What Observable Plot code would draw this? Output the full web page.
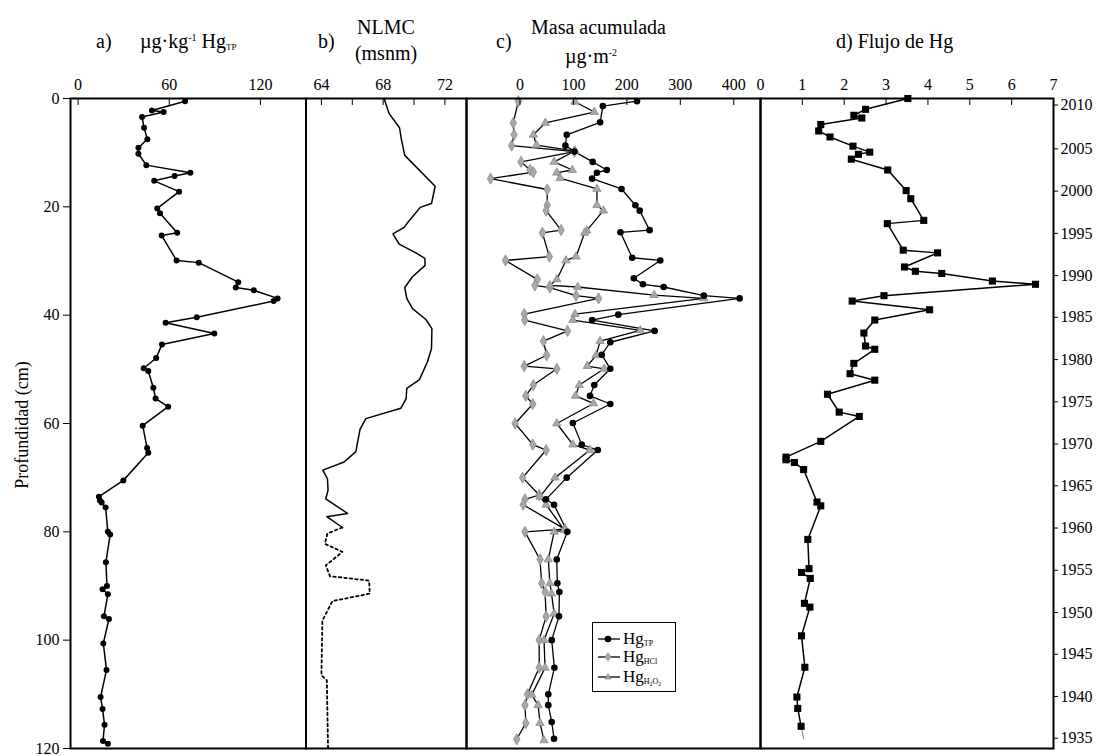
<!DOCTYPE html>
<html><head><meta charset="utf-8">
<script src="https://cdn.jsdelivr.net/npm/d3@7"></script>
<script src="https://cdn.jsdelivr.net/npm/@observablehq/plot@0.6"></script>
<style>
body{margin:0;background:#fff;}
#wrap{position:relative;width:1100px;height:756px;font-family:"Liberation Serif","Times New Roman",serif;color:#000;overflow:hidden;}
#wrap svg.plt{position:absolute;left:0;top:0;}
#wrap svg.plt text, #wrap svg.plt g{font-family:"Liberation Serif","Times New Roman",serif !important;}
.t{position:absolute;font-size:20px;white-space:nowrap;line-height:1;font-family:"Liberation Serif","Times New Roman",serif;}
.c{text-align:center;}
sub.s{font-size:9px;vertical-align:-2px;}
sup.s{font-size:10px;vertical-align:7px;}
#legend{position:absolute;left:592px;top:622px;width:82px;height:68px;border:1.5px solid #000;background:#fff;}
#legend .row{position:absolute;left:4px;height:18px;display:flex;align-items:center;}
#legend .lab{font-size:17px;margin-left:2px;line-height:1;}
#legend sub{font-size:8px;vertical-align:-2px;line-height:1;}
#legend sub sub{font-size:6px;vertical-align:-2px;}
</style></head><body><div id="wrap"></div>
<script>
// ---------- data ----------
// a) Hg_TP concentration (µg/kg) vs depth (cm)
const aDepth = [0.5,2.2,2.5,3.4,5.4,7.5,9.1,10.2,12.3,13.7,14.3,15.2,17.2,20.3,21.2,24.8,25.3,29.9,30.3,33.9,34.9,35.4,36.9,37.4,40.4,41.4,43.4,45.4,47.9,49.8,50.3,53.4,55.4,56.9,60.4,64.5,65.4,70.5,73.5,74.2,74.6,75.5,80.0,80.5,85.6,90.0,90.6,91.5,95.6,96.1,100.6,105.5,110.5,112.7,115.6,118.6,119.1];
const aHg = [70.4,48.6,56.3,42.1,43.4,45.6,39.7,39.7,44.9,73.9,63.5,50.1,66.5,52.1,53.9,65.2,55.0,64.8,79.4,105.4,103.8,115.6,131.3,128.7,78.1,57.6,89.7,55.2,51.4,43.2,46.2,49.5,51.0,59.3,42.5,45.4,46.2,29.8,13.7,14.4,15.5,18.1,19.6,21.1,18.3,19.0,16.1,19.6,17.0,20.3,16.6,18.7,14.8,16.1,17.4,16.4,19.6];

// b) NLMC (msnm) vs depth : solid and dotted parts
const bDepthSolid = [0,2.8,5.4,7.7,10.5,16.2,19.4,20.1,22.8,23.8,25.0,26.9,28.6,29.5,30.8,32.9,34.9,36.9,38.8,40.8,42.5,46.2,48.6,51.9,53.5,55.4,57.2,59.1,61.1,65.2,67.1,68.6,70.2,72.3,73.9,76.6,77.2,79.2];
const bSolid = [68.06,68.39,69.06,69.19,69.4,71.37,71.13,70.4,69.62,69.36,68.63,69.04,70.18,70.7,70.72,69.9,69.4,69.53,69.9,70.77,71.16,71.13,70.87,70.35,69.53,69.49,69.14,66.88,66.5,66.23,65.47,64.09,64.39,64.43,64.28,65.69,64.35,65.36];
const bDepthDot = [79.2,80.3,82.2,83.7,86.2,88.2,89.0,91.4,92.8,96.4,106.5,107.4,120];
const bDot = [65.36,64.39,64.22,65.36,64.28,64.56,67.09,67.13,64.71,64.06,64.0,64.35,64.43];

// c) Masa acumulada (µg/m2)
const cDepthTP = [0.5,1.4,4.4,6.7,8.7,9.8,11.7,13.2,13.7,14.8,16.7,19.7,20.7,24.3,24.7,29.4,29.9,33.2,34.3,34.8,36.4,36.9,39.9,40.9,42.9,45.0,47.3,49.9,52.9,54.9,56.4,59.9,63.9,64.9,70.0,74.0,75.0,80.0,85.1,89.5,91.1,95.6,100.0,105.1,110.0,112.0,115.1,118.2];
const cTP = [219,155,150,87.5,85,102,136,162.5,144,135,190,216,224,242.5,188,210,262.5,213,230,269,344,411,184,135,252,169,153,169,139,131,169,99,115.6,145.6,87.5,48.75,63.75,88.75,68.75,70,73.75,73,59.4,64.4,53,53,59.4,63.75];
const cDepthHCl = [0.5,4.5,6.7,8.7,9.8,11.7,13.2,13.6,14.8,16.8,19.7,20.7,24.3,24.8,29.2,29.9,33.4,34.5,34.9,36.4,36.9,39.8,40.9,42.9,44.8,47.4,49.4,49.9,52.9,54.9,56.4,60.0,63.9,64.9,70.0,73.2,74.0,75.0,79.5,80.0,85.1,89.5,91.1,95.6,100.0,105.1,110.0,112.0,115.3,118.3];
const cHCl = [-3,-12.5,-11,-15.6,102,2,19,25,-55,51,51,49,77,42,55,-27,32.5,28,56,105,147,8,9,89,44,50,8,69,25,11,24,-9,24,49,5,36,9.4,6,84,9.4,37.5,40.6,47,49,36,36,14,9.4,11,-6];
const cDepthH2O2 = [0.6,2.5,4.5,6.7,8.6,9.7,11.7,13.2,13.7,14.7,16.7,19.7,20.7,24.4,24.8,29.2,29.9,33.4,34.5,34.8,36.3,36.9,39.8,40.9,42.8,44.8,47.4,49.4,49.9,52.9,54.9,56.3,60.0,63.9,64.9,70.0,73.5,75.0,79.7,80.0,85.1,89.5,91.4,95.1,100,105.1,110.1,112,115.3,118.5];
const cH2O2 = [103,139,47.5,25,31,103,64,98,69,75,144,144,156,125,121,105,86,69,56,108,251,344,103,99,225,150,142.5,126,157.5,111,104,137.5,69,99,131,65.6,37.5,49,83,64,53,56,59,64,45,47,22,34,37.5,45];

// d) Flujo de Hg
const dDepth = [0.0,2.0,3.1,3.6,4.8,6.0,7.1,8.8,9.9,10.3,11.2,13.2,17.0,18.5,22.5,23.1,28.0,28.5,31.1,31.9,32.3,33.7,34.3,36.4,37.4,39.0,40.9,43.3,45.7,46.3,48.9,50.8,52.0,54.6,57.9,58.7,63.3,66.2,66.7,67.2,68.5,74.5,75.2,81.4,86.8,87.5,88.6,93.2,93.9,99.2,105.0,110.5,112.6,115.9];
const dFlux = [3.52,2.51,2.23,2.42,1.44,1.39,1.66,2.21,2.61,2.34,2.17,3.04,3.48,3.59,3.90,3.03,3.41,4.23,3.44,3.70,4.33,5.54,6.57,2.95,2.19,4.04,2.73,2.47,2.51,2.73,2.23,2.14,2.73,1.60,1.88,2.36,1.44,0.61,0.61,0.81,1.03,1.35,1.44,1.13,1.16,0.98,1.19,1.05,1.18,0.98,1.06,0.87,0.89,0.97];
const dTailDepth = [115.9,118.2];
const dTail = [0.97,1.03];

// axes / ticks
const depthTicks = [0,20,40,60,80,100,120];
const aTicks = [0,60,120];
const bTicks = [64,66,68,70,72];
const bLabels = [64,68,72];
const cTicks = [0,100,200,300,400];
const dTicks = [0,1,2,3,4,5,6,7];
const yearLabels = [2010,2005,2000,1995,1990,1985,1980,1975,1970,1965,1960,1955,1950,1945,1940,1935];
const yearDepths = [1.2,9.3,17.1,24.9,32.7,40.4,48.2,56.0,63.8,71.5,79.3,87.1,94.9,102.6,110.4,118.1];

// ---------- helpers ----------
const zip = (ys, xs) => ys.map((d, i) => ({d, v: xs[i]}));
const W = 1100, H = 756, MT = 98, MB = 8;
const style = {fontFamily: '"Liberation Serif", "Times New Roman", serif', fontSize: "16px", background: "transparent", overflow: "visible"};
function topAxes(ticks, fmt) {
  return [
    Plot.axisX({anchor: "top", ticks, tickSize: -6, tickFormat: () => "", label: null}),
    Plot.axisX({anchor: "top", ticks, tickSize: 0, tickPadding: 9, tickFormat: fmt || (d => d), label: null, fontSize: 16})
  ];
}
function panel(left, right, xdom, marks, yopt = {}) {
  const p = Plot.plot({
    width: W, height: H, marginTop: MT, marginBottom: MB, marginLeft: left, marginRight: W - right,
    x: {domain: xdom}, y: {domain: [0, 120], reverse: true, ...yopt},
    style, marks
  });
  p.classList.add("plt");
  p.setAttribute("font-family", '"Liberation Serif", serif');
  return p;
}

const wrap = document.getElementById("wrap");

// panel a
const aData = zip(aDepth, aHg);
wrap.append(panel(70, 305.5, [-5, 150], [
  Plot.line(aData, {x: "v", y: "d", stroke: "black", strokeWidth: 1.5}),
  Plot.dot(aData, {x: "v", y: "d", r: 3, fill: "black"}),
  ...topAxes(aTicks),
  Plot.axisY({anchor: "left", ticks: depthTicks, tickSize: 7, tickPadding: 4, label: null, fontSize: 16}),
  Plot.frame({strokeWidth: 2})
]));

// panel b
wrap.append(panel(305.5, 466, [63, 73.4], [
  Plot.line(zip(bDepthSolid, bSolid), {x: "v", y: "d", stroke: "black", strokeWidth: 1.5}),
  Plot.line(zip(bDepthDot, bDot), {x: "v", y: "d", stroke: "black", strokeWidth: 1.8, strokeDasharray: "2.5,3"}),
  ...topAxes(bTicks, d => bLabels.includes(d) ? d : ""),
  Plot.frame({strokeWidth: 2})
], {axis: null}));

// panel c
const tp = zip(cDepthTP, cTP), hcl = zip(cDepthHCl, cHCl), h2o2 = zip(cDepthH2O2, cH2O2);
wrap.append(panel(466, 760, [-100, 450], [
  Plot.line(hcl, {x: "v", y: "d", stroke: "black", strokeWidth: 1.3}),
  Plot.line(h2o2, {x: "v", y: "d", stroke: "black", strokeWidth: 1.3}),
  Plot.line(tp, {x: "v", y: "d", stroke: "black", strokeWidth: 1.3}),
  Plot.dot(hcl, {x: "v", y: "d", symbol: "diamond", r: 3.4, fill: "#a8a8a8", stroke: "#8a8a8a", strokeWidth: 0.8}),
  Plot.dot(h2o2, {x: "v", y: "d", symbol: "triangle", r: 3.1, fill: "#a8a8a8", stroke: "#8a8a8a", strokeWidth: 0.8}),
  Plot.dot(tp, {x: "v", y: "d", r: 3.3, fill: "black"}),
  ...topAxes(cTicks),
  Plot.frame({strokeWidth: 2})
], {axis: null}));

// panel d
const yearMap = new Map(yearDepths.map((d, i) => [d, String(yearLabels[i])]));
const dd = zip(dDepth, dFlux);
wrap.append(panel(760, 1053, [0, 7], [
  Plot.line(zip(dTailDepth, dTail), {x: "v", y: "d", stroke: "#555", strokeWidth: 0.8}),
  Plot.line(dd, {x: "v", y: "d", stroke: "black", strokeWidth: 1.5}),
  Plot.dot(dd, {x: "v", y: "d", symbol: "square", r: 4, fill: "black"}),
  ...topAxes(dTicks),
  Plot.axisY({anchor: "right", ticks: yearDepths, tickSize: 4, tickPadding: 3, tickFormat: d => yearMap.get(d), label: null, fontSize: 16}),
  Plot.frame({strokeWidth: 2})
]));

// titles
function addText(html, left, top, cls = "t", extra = "") {
  const el = document.createElement("div");
  el.className = cls;
  el.style.cssText = `left:${left}px;top:${top}px;${extra}`;
  el.innerHTML = html;
  wrap.append(el);
}
addText("a)", 96, 31);
addText('µg·kg<sup class="s">-1</sup> Hg<sub class="s">TP</sub>', 140, 31);
addText("b)", 318, 31);
addText("NLMC", 336, 17, "t c", "width:100px;");
addText("(msnm)", 336, 43, "t c", "width:100px;");
addText("c)", 496, 31);
addText("Masa acumulada", 531, 17, "t c", "width:120px;");
addText('µg·m<sup class="s">-2</sup>', 531, 46, "t c", "width:120px;");
addText("d) Flujo de Hg", 836, 31);
addText("Profundidad (cm)", 22, 425, "t", "font-size:18px;transform:translate(-50%,-50%) rotate(-90deg);");

// legend
const legend = document.createElement("div");
legend.id = "legend";
const legItems = [
  {sym: "circle", label: 'Hg<sub>TP</sub>', top: 7},
  {sym: "diamond", label: 'Hg<sub>HCl</sub>', top: 25},
  {sym: "triangle", label: 'Hg<sub>H<sub>2</sub>O<sub>2</sub></sub>', top: 45}
];
for (const it of legItems) {
  const row = document.createElement("div");
  row.className = "row";
  row.style.top = it.top + "px";
  let mk;
  if (it.sym === "circle") mk = '<circle cx="11" cy="9" r="3.3" fill="black"/>';
  else if (it.sym === "diamond") mk = '<path d="M11,5L14,9L11,13L8,9Z" fill="#a8a8a8" stroke="#8a8a8a" stroke-width="0.8"/>';
  else mk = '<path d="M11,5.5L14,11L8,11Z" fill="#a8a8a8" stroke="#8a8a8a" stroke-width="0.8"/>';
  row.innerHTML = `<svg width="24" height="18"><line x1="1" x2="23" y1="9" y2="9" stroke="black" stroke-width="1.3"/>${mk}</svg><span class="lab">${it.label}</span>`;
  legend.append(row);
}
wrap.append(legend);
</script></body></html>
